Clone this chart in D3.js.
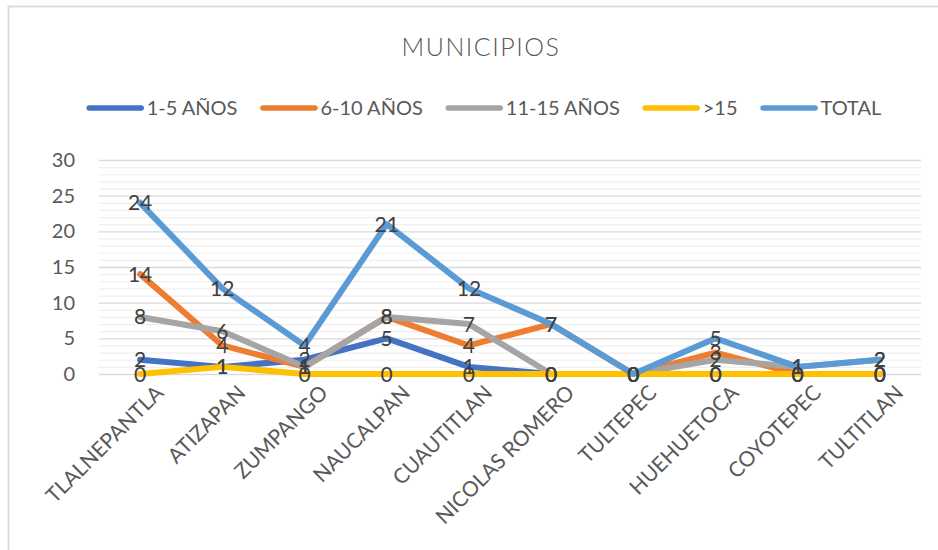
<!DOCTYPE html>
<html>
<head>
<meta charset="utf-8">
<script src="https://cdnjs.cloudflare.com/ajax/libs/d3/7.8.5/d3.min.js"></script>
<style>
  body{margin:0;background:#fff;}
  svg{display:block;font-family:Lato,"Open Sans",sans-serif;}
</style>
</head>
<body>
<div id="chart"></div>
<script>
// datos
var municipios = ["TLALNEPANTLA","ATIZAPAN","ZUMPANGO","NAUCALPAN","CUAUTITLAN","NICOLAS ROMERO","TULTEPEC","HUEHUETOCA","COYOTEPEC","TULTITLAN"];
var seriesNames = ["1-5 AÑOS","6-10 AÑOS","11-15 AÑOS",">15","TOTAL"];
var anios1a5   = [2,1,2,5,1,0,0,0,0,0];
var anios6a10  = [14,4,1,8,4,7,0,3,0,0];
var anios11a15 = [8,6,1,8,7,0,0,2,1,2];
var mas15      = [0,1,0,0,0,0,0,0,0,0];
var total      = [24,12,4,21,12,7,0,5,1,2];
var yTicks = [0,5,10,15,20,25,30];
var seriesColors = ["#4472C4","#ED7D31","#A5A5A5","#FFC000","#5B9BD5"];

(function lineChart(){
    var width = 938, height = 550;
    var margin = {top:160,right:17,bottom:176,left:99};
    var plotW = width-margin.left-margin.right;
    var plotH = height-margin.top-margin.bottom;

    var values = [anios1a5,anios6a10,anios11a15,mas15,total];
    var series = seriesNames.map(function(n,i){
        return {name:n, color:seriesColors[i], values:values[i]};
    });

    var svg = d3.select('#chart')
        .append('svg')
            .attr('width',width)
            .attr('height',height);

    // marco del grafico
    svg.append('rect')
        .attr('x',8.5).attr('y',6.5)
        .attr('width',960).attr('height',580)
        .attr('fill','#fff')
        .attr('stroke','#d9d9d9')
        .attr('stroke-width',1.8);

    svg.append('text')
        .attr('x',481).attr('y',56)
        .attr('text-anchor','middle')
        .style('font-size','25px')
        .style('font-weight','300')
        .style('letter-spacing','1.5px')
        .style('fill','#595959')
        .text('MUNICIPIOS');

    var g = svg.append('g')
        .attr('transform','translate('+margin.left+', '+margin.top+')');

    var x = d3.scalePoint()
        .domain(municipios)
        .range([0,plotW])
        .padding(0.5);

    var y = d3.scaleLinear()
        .domain([0,30])
        .range([plotH,0]);

    // lineas de division menores y mayores
    var minorGrid = g.append('g')
        .call(d3.axisLeft(y).tickValues(d3.range(0,31).filter(d => d%5 != 0)).tickSize(-plotW).tickFormat(''));
    minorGrid.select('.domain').remove();
    minorGrid.selectAll('line').attr('stroke','#efefef').attr('stroke-width',1.2);

    var majorGrid = g.append('g')
        .call(d3.axisLeft(y).tickValues(yTicks).tickSize(-plotW).tickPadding(24));
    majorGrid.select('.domain').remove();
    majorGrid.selectAll('line').attr('stroke','#d9d9d9').attr('stroke-width',1.3);
    majorGrid.selectAll('text')
        .attr('x',-24)
        .style('font-size','20px')
        .style('font-family','Lato, sans-serif')
        .style('fill','#595959');

    var xAxis = g.append('g')
        .attr('transform',`translate(0, ${plotH})`)
        .call(d3.axisBottom(x).tickSize(0));
    xAxis.select('.domain').remove();
    xAxis.selectAll('text')
        .attr('x',0).attr('y',0)
        .attr('dy','0.75em')
        .style('text-anchor','end')
        .style('font-size','21px')
        .style('font-family','Lato, sans-serif')
        .style('fill','#595959')
        .attr('transform','translate(13, 9) rotate(-45)');

    var line = d3.line()
        .x((d,i) => x(municipios[i]))
        .y(d => y(d));

    g.selectAll('.serie')
        .data(series)
        .enter()
        .append('path')
        .attr('class','serie')
        .attr('d',d => line(d.values))
        .attr('fill','none')
        .attr('stroke',d => d.color)
        .attr('stroke-width',6)
        .attr('stroke-linejoin','round')
        .attr('stroke-linecap','round');

    // etiquetas de datos
    series.forEach(function(s){
        g.append('g')
            .selectAll('text')
            .data(s.values)
            .enter()
            .append('text')
            .attr('x',(d,i) => x(municipios[i]))
            .attr('y',d => y(d))
            .attr('dy','0.36em')
            .attr('text-anchor','middle')
            .style('font-size','21px')
            .style('fill','#404040')
            .text(d => d);
    });

    // leyenda
    var legend = svg.append('g').attr('transform','translate(0, 108)');
    var items = legend.selectAll('.item')
        .data(series)
        .enter()
        .append('g')
        .attr('class','item');
    items.append('line')
        .attr('x1',2.5).attr('x2',54.5)
        .attr('y1',0).attr('y2',0)
        .attr('stroke',d => d.color)
        .attr('stroke-width',5.5)
        .attr('stroke-linecap','round');
    items.append('text')
        .attr('x',60)
        .attr('dy','0.36em')
        .style('font-size','20px')
        .style('fill','#595959')
        .text(d => d.name);

    var widths = [];
    items.selectAll('text').each(function(){ widths.push(60+this.getComputedTextLength()); });
    var gap = 23;
    var totalW = d3.sum(widths)+gap*(widths.length-1);
    var cursor = 484-totalW/2;
    items.attr('transform',function(d,i){
        var t = 'translate('+cursor+',0)';
        cursor += widths[i]+gap;
        return t;
    });
}());
</script>
</body>
</html>
